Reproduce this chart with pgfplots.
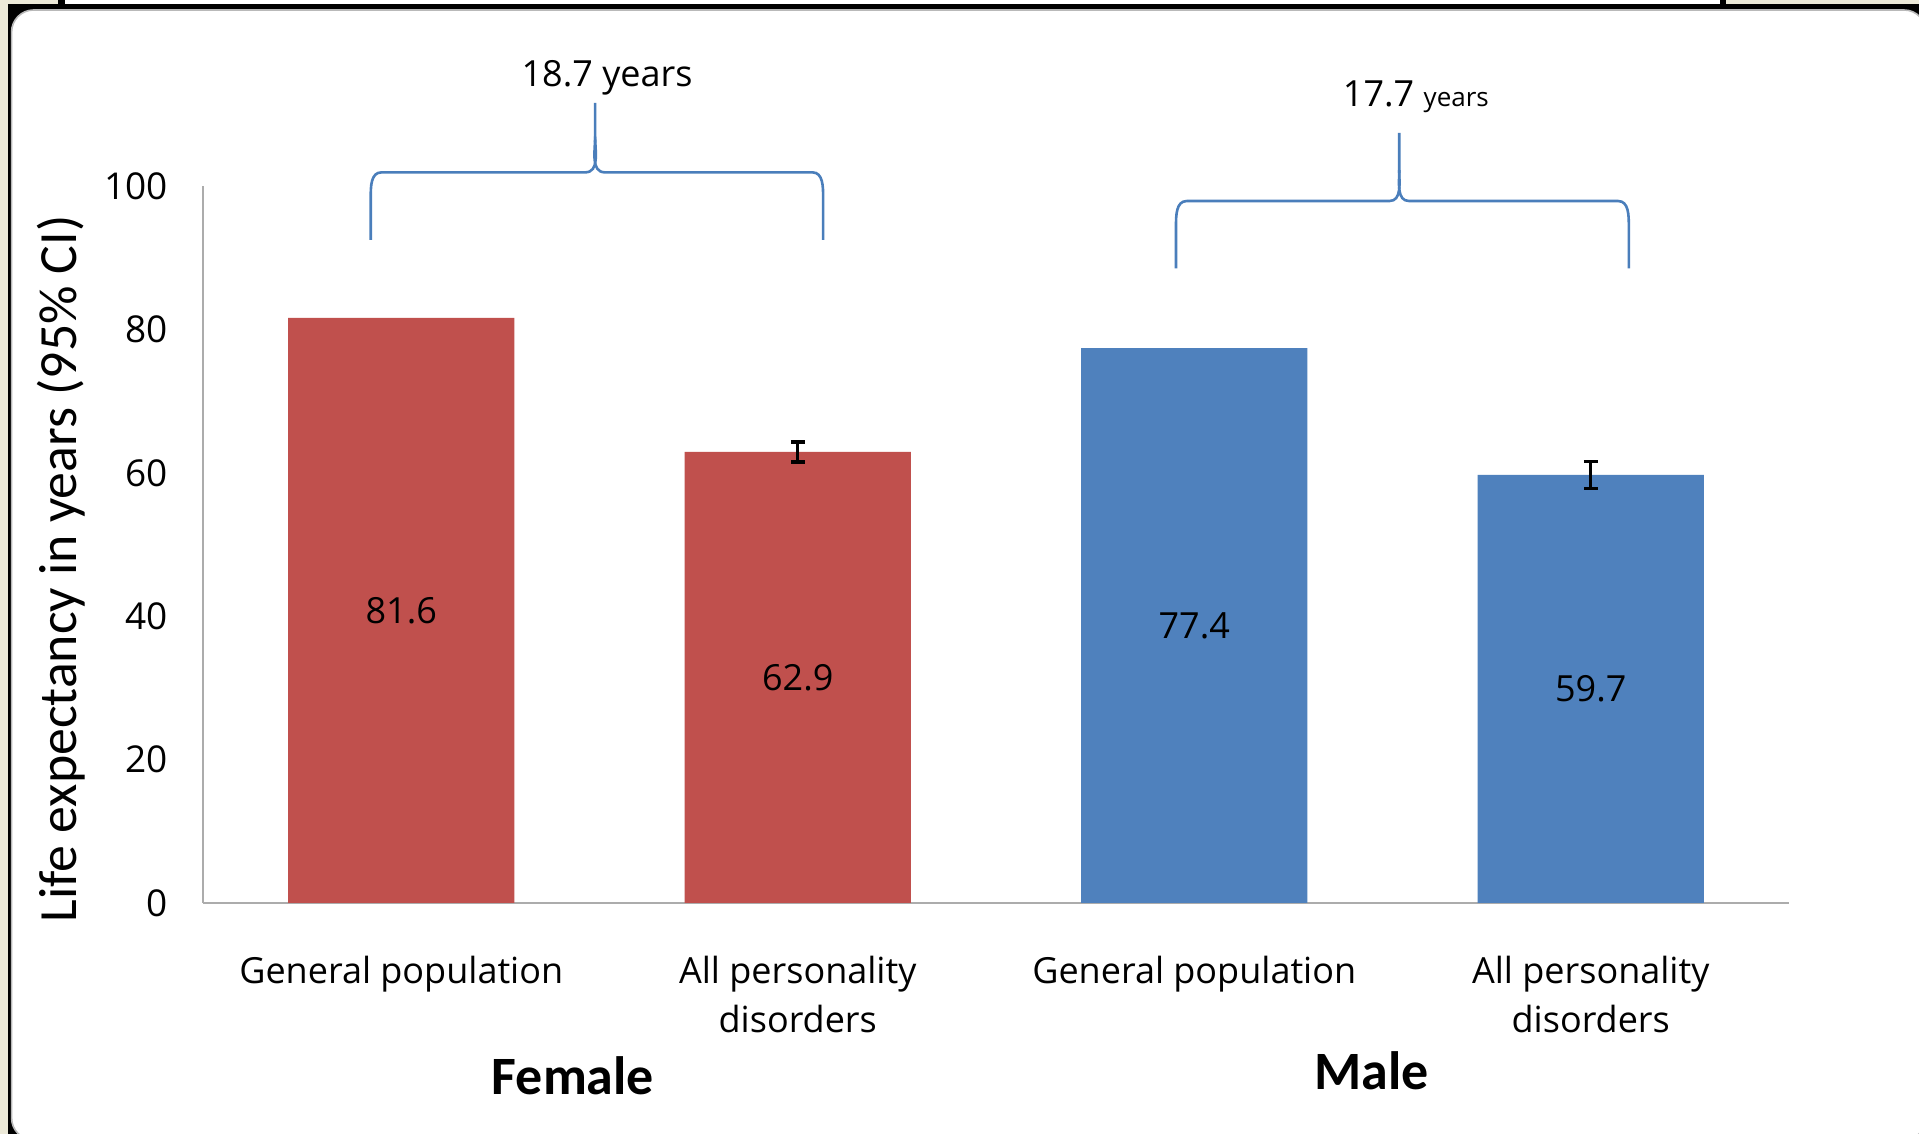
\documentclass[border=0pt]{standalone}
\usepackage{fontspec}
\setmainfont{Open Sans}
\newfontfamily\calibri{Carlito}
\usepackage{pgfplots}
\pgfplotsset{compat=1.18}
\definecolor{barred}{HTML}{C0504D}
\definecolor{barblue}{HTML}{4F81BD}
\definecolor{bracecol}{HTML}{4A7EBB}
\definecolor{beige}{HTML}{ECE9D8}
\begin{document}
\begin{tikzpicture}
\useasboundingbox (0pt,0pt) rectangle (959.5pt,567pt);
\fill[black] (0pt,0pt) rectangle (959.5pt,567pt);
\fill[beige] (0pt,0pt) rectangle (4pt,567pt);
\fill[beige] (0pt,565pt) rectangle (29pt,567pt);
\fill[white] (32.5pt,565pt) rectangle (860pt,567pt);
\fill[beige] (863pt,565pt) rectangle (959.5pt,567pt);
\filldraw[fill=white, draw=gray!55, line width=0.8pt, rounded corners=11pt] (5.8pt,-3pt) rectangle (963pt,562pt);
\begin{axis}[
  at={(200.625pt,115.5pt)}, anchor=origin,
  scale only axis, width=793pt, height=358.5pt,
  xmin=-0.5, xmax=3.5, ymin=0, ymax=100,
  clip=false,
  axis x line*=bottom, axis y line*=left,
  axis line style={gray!65, line width=1pt, -},
  major tick length=0pt,
  xtick={0,1,2,3},
  xticklabels={General population, {All personality\\disorders}, General population, {All personality\\disorders}},
  xticklabel style={align=center, font=\fontsize{18}{24.5}\selectfont, anchor=north, yshift=-23pt},
  ytick={0,20,...,100},
  yticklabel style={font=\fontsize{18.5}{20}\selectfont, xshift=-14pt},
  /pgf/number format/assume math mode=true,
  ylabel={Life expectancy in years (95\% CI)},
  every axis y label/.style={at={(axis description cs:-0.0895,0.466)}, rotate=90, anchor=center, font=\calibri\fontsize{26.9}{28}\selectfont},
]
\addplot[ybar, bar width=0.571, bar shift=0pt, fill=barred, draw=none,
  visualization depends on={y/2 \as \halfy},
  nodes near coords={\pgfmathprintnumber[fixed,precision=1,fixed zerofill]{\pgfplotspointmeta}},
  every node near coord/.append style={anchor=center, font=\fontsize{18}{20}\selectfont, text=black, shift={(axis direction cs:0,-\halfy)}}]
  coordinates {(0,81.6) (1,62.9)};
\addplot[ybar, bar width=0.571, bar shift=0pt, fill=barblue, draw=none,
  visualization depends on={y/2 \as \halfy},
  nodes near coords={\pgfmathprintnumber[fixed,precision=1,fixed zerofill]{\pgfplotspointmeta}},
  every node near coord/.append style={anchor=center, font=\fontsize{18}{20}\selectfont, text=black, shift={(axis direction cs:0,-\halfy)}}]
  coordinates {(2,77.4) (3,59.7)};
\addplot[draw=none, mark=none, forget plot,
  error bars/.cd, y dir=both, y explicit,
  error bar style={draw=black, line width=1.4pt},
  error mark options={rotate=90, draw=black, mark size=3.4pt, line width=1.6pt}]
  coordinates {(1,62.9) +- (0,1.4) (3,59.7) +- (0,1.85)};
% braces
\draw[bracecol, line width=1.3pt] (axis cs:-0.077,92.5) -- (axis cs:-0.077,98.4) to[out=90,in=180] (axis cs:-0.05,101.9) -- (axis cs:0.464,101.9) to[out=0,in=-90] (axis cs:0.489,106.9) -- (axis cs:0.489,111.6);
\draw[bracecol, line width=1.3pt] (axis cs:0.489,106.9) to[out=-90,in=180] (axis cs:0.514,101.9) -- (axis cs:1.037,101.9) to[out=0,in=90] (axis cs:1.064,98.4) -- (axis cs:1.064,92.5);
\draw[bracecol, line width=1.3pt] (axis cs:1.954,88.5) -- (axis cs:1.954,94.4) to[out=90,in=180] (axis cs:1.981,97.9) -- (axis cs:2.492,97.9) to[out=0,in=-90] (axis cs:2.517,102.2) -- (axis cs:2.517,107.4);
\draw[bracecol, line width=1.3pt] (axis cs:2.517,102.2) to[out=-90,in=180] (axis cs:2.542,97.9) -- (axis cs:3.069,97.9) to[out=0,in=90] (axis cs:3.096,94.4) -- (axis cs:3.096,88.5);
\node[font=\fontsize{18}{20}\selectfont] at (axis cs:0.519,115.1) {18.7 years};
\node at (axis cs:2.559,112.4) {\fontsize{18}{20}\selectfont 17.7 \fontsize{13}{15}\selectfont years};
\node[font=\calibri\bfseries\fontsize{27}{30}\selectfont] at (axis cs:0.433,-24.1) {Female};
\node[font=\calibri\bfseries\fontsize{27}{30}\selectfont] at (axis cs:2.448,-23.4) {Male};
\end{axis}
\end{tikzpicture}
\end{document}
